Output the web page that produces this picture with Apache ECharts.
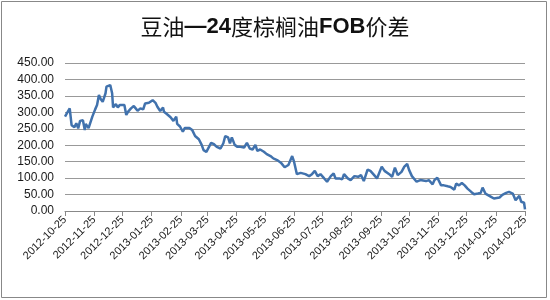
<!DOCTYPE html>
<html>
<head>
<meta charset="utf-8">
<script src="https://cdn.jsdelivr.net/npm/echarts@6/dist/echarts.min.js"></script>
<style>
html,body{margin:0;padding:0;background:#fff;}
#c{width:550px;height:300px;}
</style>
</head>
<body>
<div id="c"></div>
<script>
var titleText = '豆油—24度棕榈油FOB价差';
var tickDates = ['2012-10-25','2012-11-25','2012-12-25','2013-01-25','2013-02-25','2013-03-25','2013-04-25','2013-05-25','2013-06-25','2013-07-25','2013-08-25','2013-09-25','2013-10-25','2013-11-25','2013-12-25','2014-01-25','2014-02-25'];
var yTicks = [0, 50, 100, 150, 200, 250, 300, 350, 400, 450];
var dates = [
'2012-10-25','2012-10-30','2012-11-01','2012-11-04','2012-11-06','2012-11-08','2012-11-10','2012-11-13','2012-11-15','2012-11-16',
'2012-11-19','2012-11-21','2012-11-23','2012-11-26','2012-11-28','2012-11-30','2012-12-02','2012-12-04','2012-12-07','2012-12-08',
'2012-12-12','2012-12-14','2012-12-15','2012-12-18','2012-12-20','2012-12-22','2012-12-24','2012-12-27','2012-12-29','2012-12-31',
'2013-01-03','2013-01-06','2013-01-08','2013-01-10','2013-01-13','2013-01-16','2013-01-18','2013-01-22','2013-01-24','2013-01-26',
'2013-01-29','2013-01-31','2013-02-03','2013-02-06','2013-02-07','2013-02-10','2013-02-14','2013-02-17','2013-02-20','2013-02-21',
'2013-02-24','2013-02-27','2013-03-01','2013-03-03','2013-03-06','2013-03-09','2013-03-12','2013-03-16','2013-03-19','2013-03-21',
'2013-03-24','2013-03-26','2013-03-29','2013-04-01','2013-04-04','2013-04-08','2013-04-11','2013-04-13','2013-04-16','2013-04-18',
'2013-04-20','2013-04-23','2013-04-26','2013-04-29','2013-05-03','2013-05-06','2013-05-09','2013-05-12','2013-05-15','2013-05-17',
'2013-05-20','2013-05-24','2013-05-27','2013-05-31','2013-06-03','2013-06-07','2013-06-11','2013-06-15','2013-06-19','2013-06-23',
'2013-06-25','2013-06-28','2013-07-02','2013-07-07','2013-07-11','2013-07-14','2013-07-17','2013-07-20','2013-07-23','2013-07-27',
'2013-07-30','2013-08-03','2013-08-06','2013-08-08','2013-08-12','2013-08-15','2013-08-17','2013-08-21','2013-08-24','2013-08-28',
'2013-09-01','2013-09-04','2013-09-07','2013-09-11','2013-09-14','2013-09-18','2013-09-21','2013-09-26','2013-09-29','2013-10-04',
'2013-10-07','2013-10-10','2013-10-13','2013-10-17','2013-10-20','2013-10-23','2013-10-25','2013-10-28','2013-10-30','2013-11-02',
'2013-11-06','2013-11-08','2013-11-12','2013-11-15','2013-11-19','2013-11-21','2013-11-24','2013-11-28','2013-12-01','2013-12-05',
'2013-12-08','2013-12-12','2013-12-14','2013-12-17','2013-12-20','2013-12-23','2013-12-26','2013-12-30','2014-01-02','2014-01-06',
'2014-01-09','2014-01-11','2014-01-14','2014-01-16','2014-01-20','2014-01-23','2014-01-25','2014-01-29','2014-02-01','2014-02-05',
'2014-02-08','2014-02-12','2014-02-15','2014-02-17','2014-02-19','2014-02-21','2014-02-24','2014-02-25'
];
var spread = [
287,312,261,255,267,251,274,276,246,265,
252,246,287,309,322,353,340,332,358,378,
383,358,315,325,315,322,319,322,292,302,
312,319,312,305,312,309,327,329,329,337,
329,317,304,315,302,295,285,274,287,265,
257,241,252,246,252,246,228,218,201,185,
180,185,207,203,195,190,206,228,224,206,
224,201,195,195,193,207,190,187,201,183,
187,180,173,167,160,155,147,133,140,167,
150,112,116,112,106,112,122,106,112,99,
89,106,114,99,99,96,112,99,94,106,
104,109,91,126,122,109,99,135,122,112,
104,132,109,119,135,143,125,106,109,89,
94,99,91,94,81,94,101,78,78,75,
73,65,83,78,85,78,68,58,51,53,
55,71,53,51,43,38,33,41,49,55,
58,53,33,28,46,28,25,5
];

function ts(s){var p=s.split('-');return Date.UTC(+p[0],+p[1]-1,+p[2]);}
function fmt(v){var d=new Date(v);var m=d.getUTCMonth()+1,dd=d.getUTCDate();return d.getUTCFullYear()+'-'+(m<10?'0':'')+m+'-'+(dd<10?'0':'')+dd;}
var tickTs = tickDates.map(ts);
var seriesData = dates.map(function(d,i){return [ts(d), spread[i]];});

var chart = echarts.init(document.getElementById('c'), null, {renderer:'canvas'});
chart.setOption({
  animation:false,
  backgroundColor:'#fff',
  title:{
    text:'{a|豆油}{b|—24}{a|度棕榈油}{b|FOB}{a|价差}',
    left:'center', top:11,
    textStyle:{
      rich:{
        a:{fontFamily:'"Noto Sans CJK SC"',fontSize:22,color:'#111',fontWeight:'normal'},
        b:{fontFamily:'"Liberation Sans"',fontSize:22,color:'#111',fontWeight:'bold'}
      }
    }
  },
  graphic:[{type:'rect',shape:{x:1.5,y:1.5,width:545,height:296},style:{fill:'none',stroke:'#888',lineWidth:1},silent:true}],
  grid:{left:65,right:25,top:63,bottom:89,containLabel:false},
  xAxis:{
    type:'value',
    min:tickTs[0], max:tickTs[tickTs.length-1],
    axisLine:{show:true,lineStyle:{color:'#888',width:1}},
    axisTick:{show:true,length:5,inside:false,customValues:tickTs,lineStyle:{color:'#888'}},
    axisLabel:{customValues:tickTs,rotate:45,fontSize:11,fontFamily:'"Liberation Sans"',color:'#1a1a1a',margin:7,formatter:function(v){return fmt(v);}},
    splitLine:{show:false}
  },
  yAxis:{
    type:'value',min:0,max:450,interval:50,
    axisLine:{show:false},axisTick:{show:false},
    axisLabel:{fontSize:12,fontFamily:'"Liberation Sans"',color:'#1a1a1a',margin:11,formatter:function(v){return v.toFixed(2);}},
    splitLine:{show:true,lineStyle:{color:'#999',width:1}}
  },
  series:[{
    type:'line',data:seriesData,showSymbol:false,symbol:'none',
    lineStyle:{color:'#4172ad',width:2.5}
  }]
});
</script>
</body>
</html>
